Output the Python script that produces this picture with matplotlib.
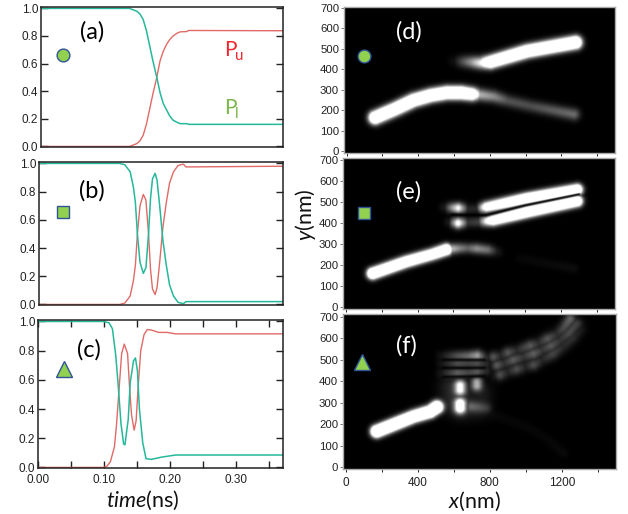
import matplotlib
matplotlib.use('Agg')
import matplotlib.pyplot as plt
import numpy as np

plt.rcParams['font.family'] = ['Liberation Sans', 'DejaVu Sans']
plt.rcParams['mathtext.fontset'] = 'custom'
plt.rcParams['mathtext.rm'] = 'Lato'
plt.rcParams['mathtext.it'] = 'Lato:italic'

W, H = 628, 514

# population curves, time in ns
t_a_u = [0, .136, .147, .152, .157, .162, .167, .172, .178, .183, .188, .193, .198, .203, .209, .214, .224, .227, .372]
pu_a = [0, 0, .02, .04, .08, .16, .27, .38, .50, .62, .69, .74, .775, .80, .82, .83, .832, .84, .838]
t_a_l = [0, .136, .147, .152, .157, .162, .167, .172, .178, .183, .188, .193, .198, .203, .209, .214, .224, .227, .372]
pl_a = [1, 1, .98, .96, .92, .84, .73, .62, .50, .39, .31, .265, .22, .19, .175, .165, .165, .16, .16]

t_b_u = [0, .123, .131, .139, .144, .147, .150, .154, .159, .163, .167, .170, .173, .177, .180, .184, .189, .194, .199, .205, .212, .220, .224, .372]
pu_b = [0, 0, .01, .06, .17, .28, .50, .70, .78, .74, .50, .25, .11, .07, .12, .30, .55, .72, .86, .94, .985, .995, .975, .98]
t_b_l = [0, .123, .131, .139, .144, .147, .150, .154, .159, .163, .167, .170, .173, .177, .180, .184, .189, .194, .199, .205, .212, .220, .224, .372]
pl_b = [1, 1, .99, .94, .83, .72, .50, .30, .22, .26, .50, .75, .89, .93, .88, .70, .45, .28, .14, .06, .015, .005, .02, .02]

t_c_u = [0, .10, .105, .11, .116, .119, .123, .127, .131, .136, .139, .142, .146, .149, .152, .156, .161, .166, .173, .183, .196, .209, .372]
pu_c = [0, 0, .01, .04, .14, .28, .53, .78, .845, .78, .55, .36, .255, .32, .55, .80, .91, .945, .94, .925, .925, .915, .915]
t_c_l = [0, .10, .108, .113, .118, .122, .126, .130, .132, .137, .140, .145, .148, .151, .154, .159, .164, .172, .187, .209, .372]
pl_c = [1, 1, .99, .95, .77, .55, .30, .16, .155, .33, .58, .73, .75, .66, .40, .17, .06, .055, .07, .085, .085]

y_ticks_left = [0, .2, .4, .6, .8, 1.0]
x_ticks_left = [0, .1, .2, .3]
y_ticks_right = [0, 100, 200, 300, 400, 500, 600, 700]
x_labels_right = [0, 400, 800, 1200]

# bright bands of the maps: (x nm, y nm, brightness)
d_bands = [
    [(159, 163, 2.4), (270, 205, 2.4), (374, 248, 2.4), (470, 272, 2.4), (560, 285, 2.4), (640, 285, 2.4), (700, 278, 2.0), (745, 275, .7), (822, 266, .55), (900, 245, .32), (1028, 220, .3), (1271, 179, .42)],
    [(600, 441, .06), (690, 436, .55), (750, 432, 1.0), (804, 436, 2.2), (1009, 489, 2.4), (1280, 532, 2.4)],
]
d_nodes = []

e_bands = [
    [(150, 159, 2.6), (336, 215, 2.4), (480, 250, 2.2), (560, 273, 2.4), (580, 276, .8), (640, 280, .5), (680, 280, .38), (730, 278, .55), (790, 272, .45), (845, 262, .1)],
    [(972, 230, .03), (1271, 183, .05)],
    [(550, 475, .1), (626, 472, 1.0), (680, 468, .15), (730, 468, .15), (785, 477, 1.5), (1009, 517, 2.4), (1290, 560, 2.2)],
    [(575, 405, .1), (626, 400, 1.1), (680, 403, .2), (740, 405, .25), (822, 413, 1.8), (1009, 453, 2.4), (1290, 505, 2.2)],
]
e_nodes = [[(590, 440), (780, 437), (1000, 485), (1300, 538)]]

f_bands = [
    [(172, 166, 3.0), (376, 235, 2.8), (468, 258, 3.0), (505, 279, 3.0)],
    [(635, 275, 1.3), (635, 295, 1.3)],
    [(635, 360, .95), (635, 380, .95)],
    [(728, 380, .65), (728, 395, .65)],
    [(700, 282, .3), (780, 275, .18)],
    [(530, 518, .08), (620, 518, .32), (680, 518, .42), (730, 520, .62), (775, 512, .18)],
    [(530, 483, .08), (620, 483, .3), (680, 483, .26), (730, 483, .3), (775, 480, .16)],
    [(530, 441, .08), (620, 441, .34), (680, 441, .26), (730, 445, .34), (775, 448, .16)],
    [(800, 508, .08), (820, 514, .3), (860, 522, .12), (900, 535, .3), (950, 545, .12), (1024, 568, .3), (1070, 580, .12), (1120, 600, .28), (1172, 622, .12), (1210, 650, .24), (1246, 692, .36)],
    [(815, 470, .08), (839, 475, .28), (880, 485, .12), (930, 500, .28), (985, 515, .12), (1043, 529, .28), (1090, 545, .12), (1140, 565, .25), (1191, 591, .11), (1240, 625, .22), (1283, 669, .2)],
    [(830, 425, .08), (857, 429, .26), (900, 440, .1), (950, 455, .26), (1000, 465, .1), (1043, 475, .26), (1090, 495, .1), (1150, 525, .22), (1209, 560, .1), (1260, 600, .14), (1302, 638, .08)],
    [(820, 243, .03), (1000, 190, .03), (1120, 130, .03), (1209, 65, .04)],
]
f_glow = [
    [(570, 370, .12), (570, 300, .1)],
    [(640, 370, .12), (640, 270, .15)],
    [(760, 340, .1), (740, 270, .1)],
    [(860, 470, .07), (1040, 525, .09), (1190, 590, .09), (1270, 660, .06)],
]
f_nodes = [[(540, 500), (770, 500)], [(540, 462), (770, 462)], [(540, 420), (770, 424)]]


def px_axes(x0, y0, x1, y1):
    # axes from pixel box, y measured from top
    return fig.add_axes([x0 / W, 1 - y1 / H, (x1 - x0) / W, (y1 - y0) / H])


def polyline_field(px, py, pts, width, sx, sy):
    # brightness falls off as a gaussian away from the ridge
    out = np.zeros_like(px)
    for p, q in zip(pts[:-1], pts[1:]):
        ax_, ay_ = p[0] * sx, p[1] * sy
        bx_, by_ = q[0] * sx, q[1] * sy
        dx, dy = bx_ - ax_, by_ - ay_
        u = np.clip(((px - ax_) * dx + (py - ay_) * dy) / (dx * dx + dy * dy), 0, 1)
        d2 = (px - ax_ - u * dx) ** 2 + (py - ay_ - u * dy) ** 2
        b = 1.0
        if len(p) > 2:
            b = p[2] + (q[2] - p[2]) * u
        out = np.maximum(out, b * np.exp(-d2 / width ** 2))
    return out


def draw_map(ax, bands, nodes, ylim, glow=None, width=6.0, node_depth=.95):
    xlim = (-15, 1500)
    bb = ax.get_position()
    sx = bb.width * W / (xlim[1] - xlim[0])
    sy = bb.height * H / (ylim[1] - ylim[0])
    xs = np.linspace(*xlim, 540)
    ys = np.linspace(*ylim, 300)
    gx, gy = np.meshgrid(xs, ys)
    px, py = gx * sx, gy * sy
    img = np.zeros_like(px)
    for b in bands:
        img = np.maximum(img, polyline_field(px, py, b, width, sx, sy))
    if glow:
        for g in glow:
            img += polyline_field(px, py, g, 11.0, sx, sy)
    for n in nodes:
        img *= 1 - node_depth * polyline_field(px, py, n, 1.4, sx, sy)
    ax.imshow(np.clip(img, 0, 1), origin='lower', extent=[*xlim, *ylim], cmap='gray',
              vmin=0, vmax=1, aspect='auto', interpolation='bilinear')
    ax.set_xlim(xlim)
    ax.set_ylim(ylim)
    ax.set_yticks(y_ticks_right)
    ax.set_xticks(np.arange(0, 1500, 200))
    ax.tick_params(axis='y', labelsize=8.2, length=2, width=.7, pad=1.5, direction='out', color='#777777', labelcolor='#222222')
    ax.tick_params(axis='x', length=2, width=.7, direction='out', color='#222222', labelbottom=False)
    for s in ax.spines.values():
        s.set_color('#aaaaaa')
        s.set_linewidth(1.0)


def draw_curves(ax, tu, pu, tl, pl):
    ax.plot(tu, pu, color='#E06A66', lw=1.0)
    ax.plot(tl, pl, color='#25B89A', lw=1.1)
    ax.set_xlim(0, .372)
    ax.set_ylim(-.004, 1.01)
    ax.set_yticks(y_ticks_left)
    ax.set_yticklabels(['0.0', '0.2', '0.4', '0.6', '0.8', '1.0'])
    ax.set_xticks([])
    ax.tick_params(axis='y', direction='in', right=True, length=5, width=1.0, labelsize=8.5, pad=2, color='#222222', labelcolor='#222222')
    for s in ax.spines.values():
        s.set_color('#222222')
        s.set_linewidth(1.1)


fig = plt.figure(figsize=(W / 100, H / 100), dpi=100)

ax_a = px_axes(41, 7, 283, 147)
ax_b = px_axes(39, 162, 283, 305)
ax_c = px_axes(38, 320, 283, 468)
ax_d = px_axes(344, 7, 615, 153)
ax_e = px_axes(343, 158, 615, 309)
ax_f = px_axes(343, 314, 616, 469)

draw_curves(ax_a, t_a_u, pu_a, t_a_l, pl_a)
draw_curves(ax_b, t_b_u, pu_b, t_b_l, pl_b)
draw_curves(ax_c, t_c_u, pu_c, t_c_l, pl_c)

# only the bottom panel has time ticks
ax_c.set_xticks(x_ticks_left)
ax_c.set_xticklabels(['0.00', '0.10', '0.20', '0.30'])
ax_c.set_xticks(np.arange(.05, .37, .1), minor=True)
ax_c.tick_params(axis='x', which='both', direction='in', top=True, length=5, width=1.0, labelsize=8.5, pad=4, color='#222222', labelcolor='#222222')

draw_map(ax_d, d_bands, d_nodes, (-10, 705), width=6.0)
draw_map(ax_e, e_bands, e_nodes, (-10, 710), width=5.2)
draw_map(ax_f, f_bands, f_nodes, (-9, 713), f_glow, width=5.4, node_depth=.8)
ax_f.tick_params(axis='x', labelbottom=True, labelsize=8.5, pad=4, labelcolor='#222222')
ax_f.set_xticklabels(['0', '', '400', '', '800', '', '1200', ''])

# symbols
green = '#92D050'
edge = '#2F5597'
ax_a.plot([.034], [.66], 'o', ms=9.2, mfc=green, mec=edge, mew=1)
ax_b.plot([.037], [.652], 's', ms=9, mfc=green, mec=edge, mew=1)
ax_c.plot([.04], [.677], '^', ms=11, mfc=green, mec=edge, mew=1)
ax_d.plot([97], [467], 'o', ms=9.2, mfc=green, mec=edge, mew=1)
ax_e.plot([100], [448], 's', ms=9, mfc=green, mec=edge, mew=1)
ax_f.plot([89], [490], '^', ms=11, mfc=green, mec=edge, mew=1)

# panel labels
panel_labels = [('(a)', 92, 32, 'black'), ('(b)', 92, 191, 'black'), ('(c)', 89, 350, 'black'),
                ('(d)', 409, 32, 'white'), ('(e)', 409, 192, 'white'), ('(f)', 406, 346, 'white')]
for txt, x, y, c in panel_labels:
    fig.text(x / W, 1 - y / H, txt, color=c, fontsize=17, family='Lato', ha='center', va='center')

fig.text(230 / W, 1 - 50 / H, 'P', color='#F0282D', fontsize=15, family='Lato', ha='center', va='center')
fig.text(239 / W, 1 - 56 / H, 'u', color='#F0282D', fontsize=11, family='Lato', ha='center', va='center')
fig.text(230 / W, 1 - 108 / H, 'P', color='#7AB648', fontsize=15, family='Lato', ha='center', va='center')
fig.text(237 / W, 1 - 114 / H, 'l', color='#7AB648', fontsize=11, family='Lato', ha='center', va='center')

fig.text(143 / W, 1 - 500 / H, r'$\it{time}$(ns)', fontsize=15.5, family='Lato', ha='center', va='center', color='#111111')
fig.text(474 / W, 1 - 501 / H, r'$\it{x}$(nm)', fontsize=15.5, family='Lato', ha='center', va='center', color='#111111')
fig.text(305 / W, 1 - 215 / H, r'$\it{y}$(nm)', fontsize=15.5, family='Lato', rotation=90, ha='center', va='center', color='#111111')

fig.savefig('out.png', dpi=100)
